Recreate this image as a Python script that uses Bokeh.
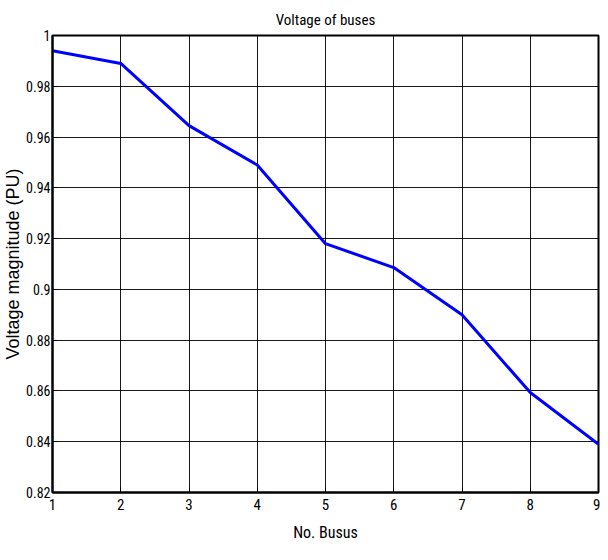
import subprocess
from bokeh.plotting import figure
from bokeh.models import Range1d, FixedTicker, CustomJSTickFormatter
from bokeh.embed import file_html
from bokeh.resources import INLINE

# ---- data ----
buses = [1, 2, 3, 4, 5, 6, 7, 8, 9]
voltage = [0.994, 0.989, 0.9645, 0.949, 0.918, 0.9086, 0.890, 0.8594, 0.839]
x_ticks = [1, 2, 3, 4, 5, 6, 7, 8, 9]
y_ticks = [0.82, 0.84, 0.86, 0.88, 0.90, 0.92, 0.94, 0.96, 0.98, 1.0]

# pick a narrow Arial-like font that is installed
try:
    _fams = subprocess.run(["fc-list", ":", "family"], capture_output=True, text=True).stdout
except Exception:
    _fams = ""
NARROW = "Liberation Sans"
for cand in ("Liberation Sans Narrow", "Arial Narrow", "Roboto Condensed", "Archivo Narrow"):
    if cand in _fams:
        NARROW = cand
        break
WIDE = "Liberation Sans"

p = figure(width=600, height=552, output_backend="svg", toolbar_location=None,
           x_range=Range1d(1, 9), y_range=Range1d(0.82, 1.0),
           title="Voltage of buses",
           min_border_left=47, min_border_right=2, min_border_top=35, min_border_bottom=60)

p.line(buses, voltage, line_color="#0000ff", line_width=3)

p.title.align = "center"
p.title.text_font = NARROW
p.title.text_font_size = "15px"
p.title.text_font_style = "normal"
p.title.text_color = "black"
p.title.standoff = 14

p.xaxis.ticker = FixedTicker(ticks=x_ticks)
p.yaxis.ticker = FixedTicker(ticks=y_ticks)
p.yaxis.formatter = CustomJSTickFormatter(code="return (Math.round(tick*100)/100).toString();")
p.xaxis.axis_label = "No. Busus"
p.yaxis.axis_label = "Voltage magnitude (PU)"

for ax in (p.xaxis, p.yaxis):
    ax.axis_line_width = 2
    ax.axis_line_color = "black"
    ax.major_tick_in = 5
    ax.major_tick_out = 0
    ax.minor_tick_in = 0
    ax.minor_tick_out = 0
    ax.major_tick_line_color = "black"
    ax.major_label_text_font = NARROW
    ax.major_label_text_color = "black"
    ax.axis_label_text_color = "black"
    ax.axis_label_text_font_style = "normal"

p.xaxis.major_label_text_font_size = "15px"
p.yaxis.major_label_text_font_size = "14px"
p.xaxis.major_label_standoff = 6
p.yaxis.major_label_standoff = 2
p.xaxis.axis_label_text_font = NARROW
p.xaxis.axis_label_text_font_size = "16px"
p.xaxis.axis_label_standoff = 10
p.yaxis.axis_label_text_font = WIDE
p.yaxis.axis_label_text_font_size = "18px"
p.yaxis.axis_label_standoff = 0

p.grid.grid_line_color = "black"
p.grid.grid_line_width = 1
p.grid.grid_line_alpha = 0.9

p.outline_line_color = "black"
p.outline_line_width = 2
p.outline_line_alpha = 1
p.background_fill_color = "white"
p.border_fill_color = "white"

open("out.html", "w").write(file_html(p, INLINE))
